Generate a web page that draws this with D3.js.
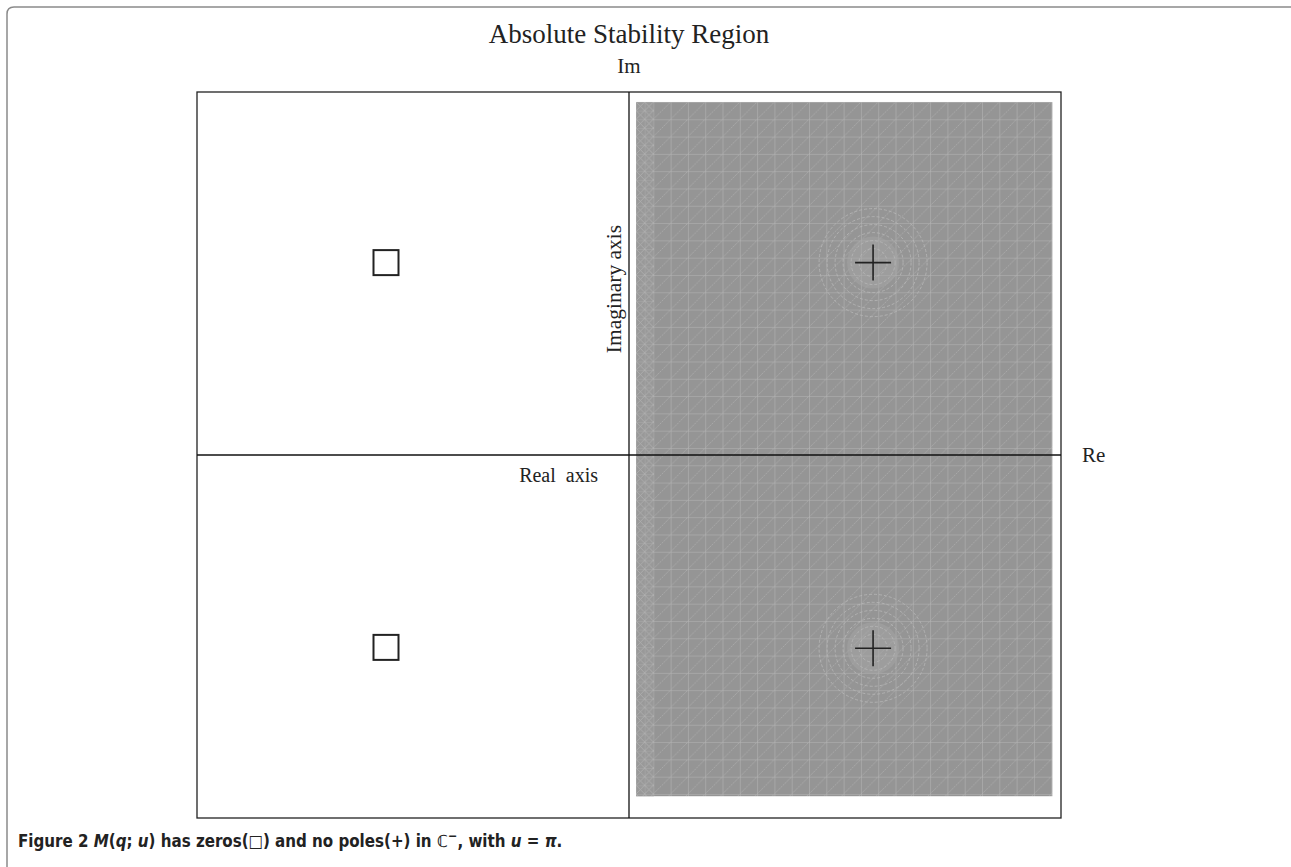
<!DOCTYPE html>
<html>
<head>
<meta charset="utf-8">
<script src="https://cdn.jsdelivr.net/npm/d3@7"></script>
<style>
  body { margin: 0; background: #fff; }
  svg text { font-family: "Liberation Serif", "DejaVu Serif", serif; fill: #222; }
</style>
</head>
<body>
<svg id="chart" width="1291" height="867"></svg>
<script>
// complex plane, both axes from -4 to 4
const reDomain = [-4, 4];
const imDomain = [-4, 4];

// zeros (squares) in left half plane, poles (plus) in right half plane
const zerosRe = [-2.25, -2.25];
const zerosIm = [2.12, -2.12];
const polesRe = [2.26, 2.26];
const polesIm = [2.12, -2.13];

// shaded stability region (re min, re max, im min, im max)
const regionRe = [0.065, 3.92];
const regionIm = [-3.76, 3.89];

const svg = d3.select("#chart");

let xScale = d3.scaleLinear().domain(reDomain).range([197, 1061]);
let yScale = d3.scaleLinear().domain(imDomain).range([818, 92]);

// page frame
svg.append("path")
  .attr("d", "M7,867 L7,14 Q7,7 14,7 L1291,7")
  .attr("fill", "none")
  .attr("stroke", "#8a8a8a")
  .attr("stroke-width", 1.5);

// mesh patterns
let defs = svg.append("defs");
let rx0 = xScale(regionRe[0]), rx1 = xScale(regionRe[1]);
let ry0 = yScale(regionIm[1]), ry1 = yScale(regionIm[0]);

let pat = defs.append("pattern")
  .attr("id", "mesh")
  .attr("patternUnits", "userSpaceOnUse")
  .attr("x", rx0).attr("y", ry0)
  .attr("width", 17.3).attr("height", 17.3);
pat.append("rect").attr("width", 17.3).attr("height", 17.3).attr("fill", "#959595");
pat.append("path").attr("d", "M0,0 L0,17.3 M0,0 L17.3,0")
  .attr("stroke", "#b8b8b8").attr("stroke-width", 1);
pat.append("path").attr("d", "M0,17.3 L17.3,0")
  .attr("stroke", "#b2b2b2").attr("stroke-width", 0.7).attr("stroke-dasharray", "2,1");

let fine = defs.append("pattern")
  .attr("id", "fine")
  .attr("patternUnits", "userSpaceOnUse")
  .attr("x", rx0).attr("y", ry0)
  .attr("width", 8.65).attr("height", 8.65);
fine.append("rect").attr("width", 8.65).attr("height", 8.65).attr("fill", "#999");
fine.append("path").attr("d", "M0,0 L0,8.65 M0,0 L8.65,0 M0,8.65 L8.65,0 M0,0 L8.65,8.65")
  .attr("stroke", "#b3b3b3").attr("stroke-width", 0.7);

let region = svg.append("g").attr("id", "region");
region.append("rect")
  .attr("x", rx0).attr("y", ry0)
  .attr("width", rx1 - rx0).attr("height", ry1 - ry0)
  .attr("fill", "url(#mesh)");
region.append("rect")
  .attr("x", rx0).attr("y", ry0)
  .attr("width", 18).attr("height", ry1 - ry0)
  .attr("fill", "url(#fine)");

// refinement rings round the poles
let rings = [14, 22, 30, 38, 46, 54];
polesRe.forEach((re, i) => {
  let cx = xScale(re), cy = yScale(polesIm[i]);
  region.append("circle").attr("cx", cx).attr("cy", cy).attr("r", 26)
    .attr("fill", "#a5a5a5").attr("opacity", 0.5);
  region.selectAll(null).data(rings).enter().append("circle")
    .attr("cx", cx).attr("cy", cy).attr("r", d => d)
    .attr("fill", "none")
    .attr("stroke", "#b8b8b8")
    .attr("stroke-width", 0.8)
    .attr("stroke-dasharray", "3,2");
});

// plot box
svg.append("rect")
  .attr("x", xScale(reDomain[0])).attr("y", yScale(imDomain[1]))
  .attr("width", xScale(reDomain[1]) - xScale(reDomain[0]))
  .attr("height", yScale(imDomain[0]) - yScale(imDomain[1]))
  .attr("fill", "none").attr("stroke", "#222").attr("stroke-width", 1.3);

// axes through the origin
svg.append("line")
  .attr("x1", xScale(reDomain[0])).attr("x2", xScale(reDomain[1]))
  .attr("y1", yScale(0)).attr("y2", yScale(0))
  .attr("stroke", "#111").attr("stroke-width", 1.3);
svg.append("line")
  .attr("x1", xScale(0)).attr("x2", xScale(0))
  .attr("y1", yScale(imDomain[0])).attr("y2", yScale(imDomain[1]))
  .attr("stroke", "#111").attr("stroke-width", 1.3);

// zeros
svg.selectAll(".zero").data(zerosRe).enter().append("rect")
  .attr("class", "zero")
  .attr("x", d => xScale(d) - 12.5)
  .attr("y", (d, i) => yScale(zerosIm[i]) - 12.5)
  .attr("width", 25).attr("height", 25)
  .attr("fill", "none").attr("stroke", "#222").attr("stroke-width", 2);

// poles
svg.selectAll(".pole").data(polesRe).enter().append("path")
  .attr("class", "pole")
  .attr("d", (d, i) => {
    let x = xScale(d), y = yScale(polesIm[i]);
    return `M${x - 18},${y} L${x + 18},${y} M${x},${y - 18} L${x},${y + 18}`;
  })
  .attr("stroke", "#222").attr("stroke-width", 1.6);

// labels
svg.append("text").attr("x", 629).attr("y", 43)
  .attr("text-anchor", "middle").attr("font-size", 27)
  .text("Absolute Stability Region");
svg.append("text").attr("x", 629).attr("y", 73)
  .attr("text-anchor", "middle").attr("font-size", 21)
  .text("Im");
svg.append("text").attr("x", 1082).attr("y", 462)
  .attr("font-size", 21).text("Re");
svg.append("text").attr("x", 598).attr("y", 482)
  .attr("text-anchor", "end").attr("font-size", 20)
  .attr("xml:space", "preserve").style("white-space", "pre")
  .text("Real  axis");
svg.append("text")
  .attr("transform", "translate(621,289) rotate(-90)")
  .attr("text-anchor", "middle").attr("font-size", 21.5)
  .text("Imaginary axis");

// caption
let cap = svg.append("text")
  .attr("x", 18).attr("y", 847)
  .attr("font-size", 16.8).attr("font-weight", "bold")
  .style("font-family", "'Liberation Sans Narrow', 'DejaVu Sans Condensed', 'Open Sans', sans-serif");
cap.append("tspan").text("Figure 2 ");
cap.append("tspan").attr("font-style", "italic").text("M");
cap.append("tspan").text("(");
cap.append("tspan").attr("font-style", "italic").text("q");
cap.append("tspan").text("; ");
cap.append("tspan").attr("font-style", "italic").text("u");
cap.append("tspan").text(") has zeros(\u25A1) and no poles(+) in \u2102");
cap.append("tspan").attr("dy", -7).attr("font-size", 12.5).text("\u2212");
cap.append("tspan").attr("dy", 7).text(", with ");
cap.append("tspan").attr("font-style", "italic").text("u");
cap.append("tspan").text(" = ");
cap.append("tspan").attr("font-style", "italic").text("\u03C0");
cap.append("tspan").text(".");
</script>
</body>
</html>
